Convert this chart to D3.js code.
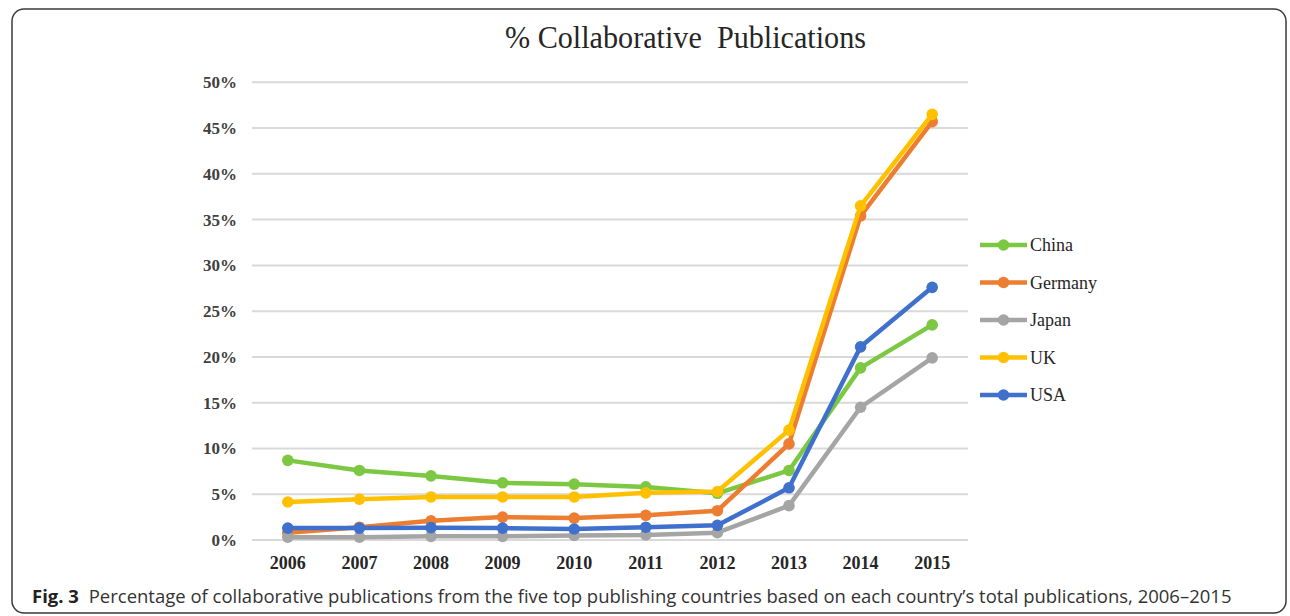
<!DOCTYPE html>
<html>
<head>
<meta charset="utf-8">
<script src="https://cdn.jsdelivr.net/npm/d3@7/dist/d3.min.js"></script>
<style>
  html, body { margin: 0; padding: 0; background: #fff; }
  svg { display: block; }
</style>
</head>
<body>
<svg id="chart" width="1290" height="616"></svg>
<script>
// ---- Data ----
const years = ["2006", "2007", "2008", "2009", "2010", "2011", "2012", "2013", "2014", "2015"];
const seriesNames = ["China", "Germany", "Japan", "UK", "USA"];
const china   = [8.7, 7.6, 7.0, 6.25, 6.1, 5.8, 5.1, 7.6, 18.8, 23.5];
const germany = [0.8, 1.4, 2.1, 2.5, 2.4, 2.7, 3.2, 10.5, 35.4, 45.7];
const japan   = [0.3, 0.3, 0.4, 0.4, 0.5, 0.55, 0.8, 3.75, 14.5, 19.9];
const uk      = [4.15, 4.45, 4.7, 4.7, 4.7, 5.15, 5.3, 12.0, 36.5, 46.5];
const usa     = [1.3, 1.3, 1.35, 1.3, 1.2, 1.4, 1.6, 5.7, 21.1, 27.6];
const yTicks  = [0, 5, 10, 15, 20, 25, 30, 35, 40, 45, 50];
const titleText = "% Collaborative\u00A0\u00A0Publications";
const captionBold = "Fig. 3";
const captionText = "Percentage of collaborative publications from the five top publishing countries based on each country\u2019s total publications, 2006\u20132015";

// ---- Styles ----
const colors = ["#7cc843", "#ed7d31", "#a5a5a5", "#ffc000", "#3f70cc"];
const seriesValues = [china, germany, japan, uk, usa];
const series = seriesNames.map((n, i) => ({ name: n, values: seriesValues[i], color: colors[i] }));

const svg = d3.select("#chart");

// Border
svg.append("rect")
  .attr("x", 12).attr("y", 9).attr("width", 1274).attr("height", 604)
  .attr("rx", 12).attr("ry", 12)
  .attr("fill", "none").attr("stroke", "#3a3a3a").attr("stroke-width", 1.5);

// Scales
const x = d3.scaleBand().domain(years).range([252, 968]).paddingInner(0).paddingOuter(0);
const cx = d => x(d) + x.bandwidth() / 2;
const y = d3.scaleLinear().domain([0, 50]).range([540, 82.3]);

// Gridlines
svg.append("g")
  .selectAll("line")
  .data(yTicks)
  .join("line")
  .attr("x1", 252).attr("x2", 968)
  .attr("y1", d => y(d)).attr("y2", d => y(d))
  .attr("stroke", "#d9d9d9").attr("stroke-width", 2);

// Y axis (labels only)
const yAxis = d3.axisLeft(y).tickValues(yTicks).tickFormat(d => d + "%").tickSize(0).tickPadding(0);
const gy = svg.append("g").attr("transform", "translate(237,0)").call(yAxis);
gy.select(".domain").remove();
gy.selectAll("text")
  .attr("font-family", "'Liberation Serif', 'Times New Roman', serif")
  .attr("font-size", 17).attr("font-weight", "bold")
  .attr("fill", "#404040");

// X axis (labels only)
const xAxis = d3.axisBottom(x).tickSize(0).tickPadding(0);
const gx = svg.append("g").attr("transform", "translate(0,556)").call(xAxis);
gx.select(".domain").remove();
gx.selectAll("text")
  .attr("font-family", "'Liberation Serif', 'Times New Roman', serif")
  .attr("font-size", 18).attr("font-weight", "bold")
  .attr("fill", "#262626");

// Lines and markers
const line = d3.line().x((d, i) => cx(years[i])).y(d => y(d));
const gs = svg.append("g");
series.forEach(s => {
  const g = gs.append("g");
  g.append("path")
    .attr("d", line(s.values))
    .attr("fill", "none")
    .attr("stroke", s.color).attr("stroke-width", 4.5)
    .attr("stroke-linejoin", "round").attr("stroke-linecap", "round");
  g.selectAll("circle")
    .data(s.values)
    .join("circle")
    .attr("cx", (d, i) => cx(years[i]))
    .attr("cy", d => y(d))
    .attr("r", 5.8)
    .attr("fill", s.color);
});

// Legend
const legend = svg.append("g");
const legY = d3.scalePoint().domain(seriesNames).range([245, 395]);
series.forEach(s => {
  const ly = legY(s.name);
  legend.append("line")
    .attr("x1", 980).attr("x2", 1027).attr("y1", ly).attr("y2", ly)
    .attr("stroke", s.color).attr("stroke-width", 4.5);
  legend.append("circle")
    .attr("cx", 1003.5).attr("cy", ly).attr("r", 5.8).attr("fill", s.color);
  legend.append("text")
    .attr("x", 1030).attr("y", ly).attr("dy", "0.35em")
    .attr("font-family", "'Liberation Serif', 'Times New Roman', serif")
    .attr("font-size", 18)
    .attr("fill", "#262626")
    .text(s.name);
});

// Title
svg.append("text")
  .attr("x", 505).attr("y", 48)
  .attr("font-family", "'Liberation Serif', 'Times New Roman', serif")
  .attr("font-size", 31)
  .attr("fill", "#262626")
  .attr("textLength", 361).attr("lengthAdjust", "spacingAndGlyphs")
  .text(titleText);

// Caption: bold label and body as separate texts
const capFont = "'Open Sans', 'Noto Sans', sans-serif";
const capBold = svg.append("text")
  .attr("x", 32).attr("y", 603)
  .attr("font-family", capFont).attr("font-size", 20).attr("font-weight", "bold")
  .attr("fill", "#222")
  .text(captionBold);
const boldW = capBold.node().getComputedTextLength();
const capStart = 32 + boldW + 6;
const capEnd = 1232;
const capBody = svg.append("text")
  .attr("x", capStart).attr("y", 603)
  .attr("font-family", capFont).attr("font-size", 20)
  .attr("fill", "#333")
  .text(captionText);
const natW = capBody.node().getComputedTextLength();
const avail = capEnd - capStart;
if (natW > avail) {
  // shrink font so the caption fits in the box without overflow
  const fs = 20 * avail / natW;
  capBody.attr("font-size", fs);
  capBold.attr("font-size", Math.max(fs, 18));
}
</script>
</body>
</html>
